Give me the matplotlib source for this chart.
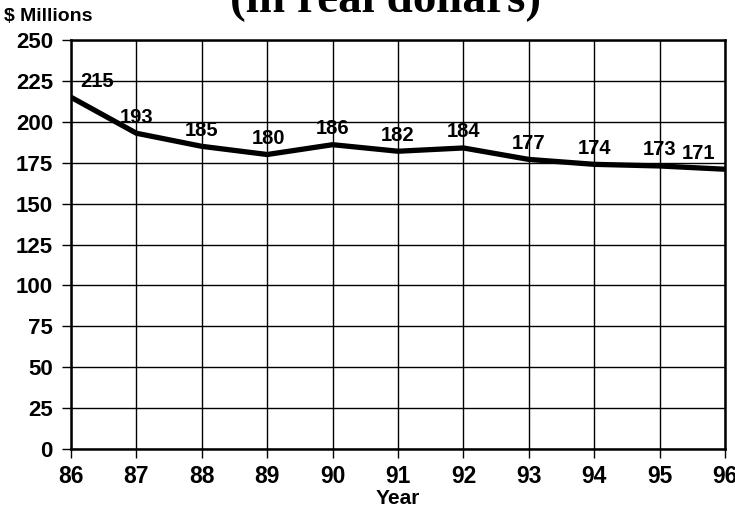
import matplotlib
matplotlib.use("Agg")
import matplotlib.pyplot as plt

years = [86, 87, 88, 89, 90, 91, 92, 93, 94, 95, 96]
spending = [215, 193, 185, 180, 186, 182, 184, 177, 174, 173, 171]
y_ticks = [0, 25, 50, 75, 100, 125, 150, 175, 200, 225, 250]

# horizontal nudge (points) for value labels that would collide with the frame
label_dx = [19, 0, 0, 1, 0, 0, 0, 0, 0, 0, -19]

plt.rcParams["font.family"] = ["Liberation Sans", "DejaVu Sans"]
plt.rcParams["font.weight"] = "bold"

fig = plt.figure(figsize=(7.35, 5.08), dpi=100)
ax = fig.add_axes([0.0966, 0.1161, 0.8898, 0.8052])

ax.plot(years, spending, color="black", lw=3.8, solid_capstyle="butt",
        solid_joinstyle="round", zorder=3)

for x, y, dx in zip(years, spending, label_dx):
    ax.annotate(str(y), (x, y), xytext=(dx, 11.5), textcoords="offset points",
                ha="center", va="center", fontsize=14.5, fontweight="bold",
                zorder=4)

ax.set_xlim(86, 96)
ax.set_ylim(0, 250)
ax.set_xticks(years)
ax.set_xticklabels([str(y) for y in years])
ax.set_yticks(y_ticks)
ax.set_yticklabels([str(v) for v in y_ticks])

ax.grid(True, color="black", lw=1.0)
ax.set_axisbelow(True)
for s in ax.spines.values():
    s.set_linewidth(1.8)
    s.set_color("black")

ax.tick_params(axis="x", direction="out", length=6.5, width=1, pad=5,
               labelsize=16.5)
ax.tick_params(axis="y", direction="out", length=6.5, width=1, pad=6.5,
               labelsize=16)
for lab in ax.get_xticklabels() + ax.get_yticklabels():
    lab.set_fontweight("bold")

ax.set_xlabel("Year", fontsize=15, fontweight="bold", labelpad=0.5)

fig.text(0.006, 0.985, "$ Millions", ha="left", va="top", fontsize=14,
         fontweight="bold")
fig.text(0.525, 0.976, "(in real dollars)", ha="center", va="baseline",
         fontsize=34, fontweight="bold",
         family=["Liberation Serif", "DejaVu Serif"])

fig.savefig("out.png", dpi=100)
